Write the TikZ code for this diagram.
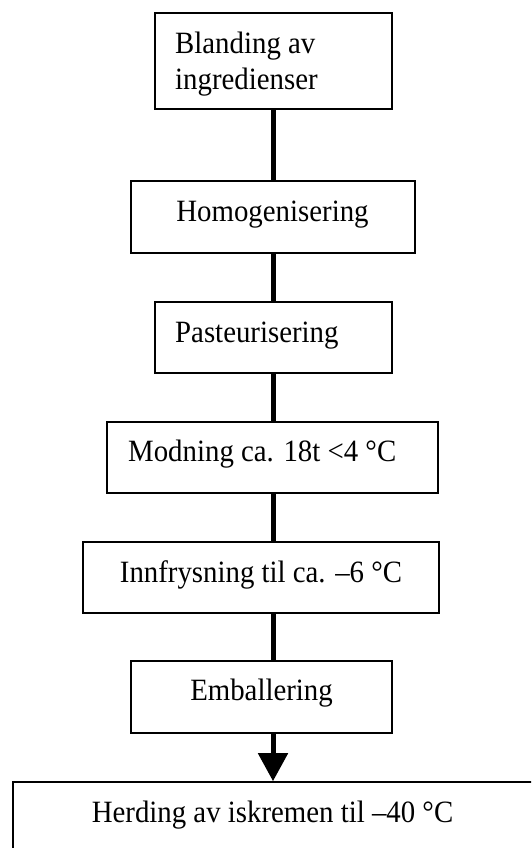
\documentclass[tikz,border=0pt]{standalone}
\usepackage{fontspec}
\setmainfont{Liberation Serif}[FakeStretch=0.93]
\usetikzlibrary{arrows.meta}

\tikzset{
  stepbox/.style={draw=black, line width=1.6pt, fill=white, inner sep=0pt},
  lbl/.style={inner sep=0pt, font=\fontsize{31}{36}\selectfont},
  conn/.style={line width=5pt},
  connarrow/.style={line width=5pt, -{Triangle[width=29pt,length=28pt]}}
}

\begin{document}
\begin{tikzpicture}[x=1pt, y=-1pt]
  \useasboundingbox (0,0) rectangle (531,848);
  \clip (0,0) rectangle (531,848);

  % common vertical axis of the connectors
  \coordinate (axis) at (273,0);

  % process steps
  \node[stepbox, minimum width=237pt, minimum height=96pt]  (b1) at (273.5,61) {};
  \node[stepbox, minimum width=284pt, minimum height=72pt]  (b2) at (273,217) {};
  \node[stepbox, minimum width=237pt, minimum height=71pt]  (b3) at (273.5,337.5) {};
  \node[stepbox, minimum width=331pt, minimum height=71pt]  (b4) at (272.5,457.5) {};
  \node[stepbox, minimum width=356pt, minimum height=71pt]  (b5) at (261,577.5) {};
  \node[stepbox, minimum width=261pt, minimum height=72pt]  (b6) at (261.5,697) {};
  \node[stepbox, minimum width=540pt, minimum height=120pt] (b7) at (283,842) {};

  % labels
  \node[lbl, anchor=base west] (t1a) at (175,54)  {Blanding av};
  \node[lbl, anchor=base west] (t1b) at (175,90)  {ingredienser};
  \node[lbl, anchor=base]      (t2)  at (272.5,221) {Homogenisering};
  \node[lbl, anchor=base west] (t3)  at (175,342) {Pasteurisering};
  \node[lbl, anchor=base west] (t4)  at (128,461) {Modning ca. 18t <4 °C};
  \node[lbl, anchor=base]      (t5)  at (261,582) {Innfrysning til ca. –6 °C};
  \node[lbl, anchor=base]      (t6)  at (261.5,700) {Emballering};
  \node[lbl, anchor=base]      (t7)  at (272.5,822) {Herding av iskremen til –40 °C};

  % connectors
  \draw[conn] (b1.south -| axis) -- (b2.north -| axis);
  \draw[conn] (b2.south -| axis) -- (b3.north -| axis);
  \draw[conn] (b3.south -| axis) -- (b4.north -| axis);
  \draw[conn] (b4.south -| axis) -- (b5.north -| axis);
  \draw[conn] (b5.south -| axis) -- (b6.north -| axis);
  \draw[connarrow] (b6.south -| axis) -- (b7.north -| axis);
\end{tikzpicture}
\end{document}
